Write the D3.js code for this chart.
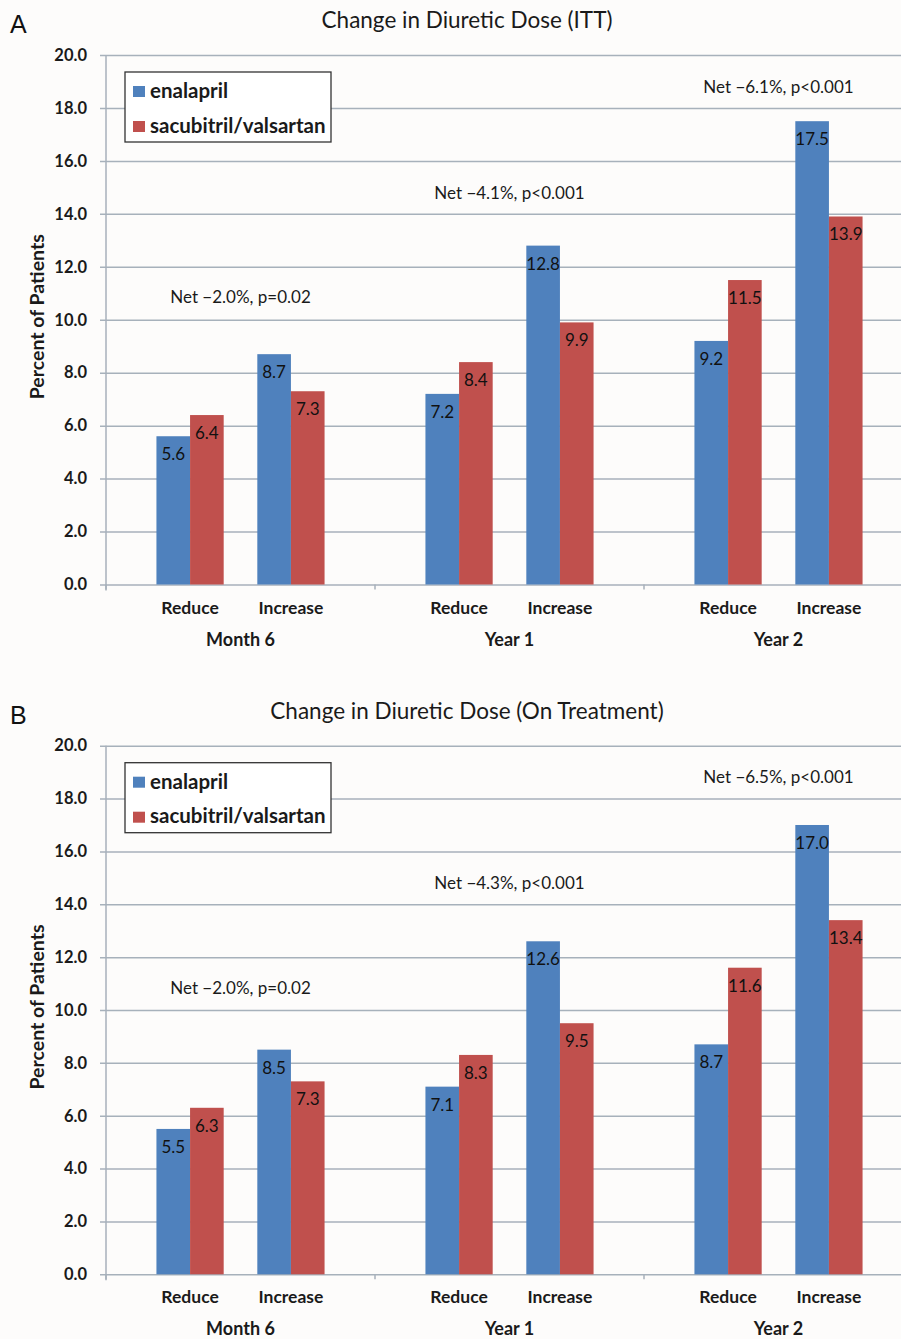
<!DOCTYPE html>
<html>
<head>
<meta charset="utf-8">
<script src="https://cdn.jsdelivr.net/npm/d3@7"></script>
<style>
  body { margin: 0; background: #fdfcfb; }
  svg { display: block; font-family: Lato, "Open Sans", sans-serif; }
</style>
</head>
<body>
<svg id="viz"></svg>
<script>
const periods = ["Month 6", "Year 1", "Year 2"];
const changes = ["Reduce", "Increase"];
const seriesNames = ["enalapril", "sacubitril/valsartan"];
const yTicks = [0, 2, 4, 6, 8, 10, 12, 14, 16, 18, 20];

// panel A, ITT: Month 6 reduce/increase, Year 1 reduce/increase, Year 2 reduce/increase
const ittEnalapril = [5.6, 8.7, 7.2, 12.8, 9.2, 17.5];
const ittSacubitril = [6.4, 7.3, 8.4, 9.9, 11.5, 13.9];
const ittNotes = ["Net \u22122.0%, p=0.02", "Net \u22124.1%, p<0.001", "Net \u22126.1%, p<0.001"];

// panel B, on treatment
const otEnalapril = [5.5, 8.5, 7.1, 12.6, 8.7, 17.0];
const otSacubitril = [6.3, 7.3, 8.3, 9.5, 11.6, 13.4];
const otNotes = ["Net \u22122.0%, p=0.02", "Net \u22124.3%, p<0.001", "Net \u22126.5%, p<0.001"];

const app = {
    init() {
        this.svg = d3.select("#viz").attr("width", 901).attr("height", 1339);
        this.drawPanel({letter: "A", title: "Change in Diuretic Dose (ITT)", top: 55, bottom: 584.5,
            series: [ittEnalapril, ittSacubitril], notes: ittNotes});
        this.drawPanel({letter: "B", title: "Change in Diuretic Dose (On Treatment)", top: 745.7, bottom: 1274.3,
            series: [otEnalapril, otSacubitril], notes: otNotes});
    },

    drawPanel(p) {
        const left = 106, right = 913;
        const gridColor = "#a7b1bb";
        const colors = ["#4f81bd", "#c0504d"];
        const g = this.svg.append("g");

        const y = d3.scaleLinear().domain([0, 20]).range([p.bottom, p.top]);
        const x0 = d3.scaleBand().domain(periods).range([left, right]);
        const x1 = d3.scaleBand().domain(changes).range([0, x0.bandwidth()]).paddingInner(1 / 3).paddingOuter(0.5);
        const x2 = d3.scaleBand().domain(seriesNames).range([0, x1.bandwidth()]);
        const color = d3.scaleOrdinal().domain(seriesNames).range(colors);

        // letter + title
        g.append("text").attr("x", 10).attr("y", p.top - 22).text(p.letter)
            .style("font-family", "'Liberation Sans', Arial, sans-serif").style("font-size", "25px").attr("fill", "#111");
        g.append("text").attr("x", 467).attr("y", p.top - 27).attr("text-anchor", "middle").text(p.title)
            .style("font-size", "22.5px").attr("fill", "#1a1a1a");

        // y axis with gridlines
        const yAxis = g.append("g").attr("transform", `translate(${left},0)`)
            .call(d3.axisLeft(y).tickValues(yTicks).tickFormat(d3.format(".1f")).tickSize(-(right - left)).tickPadding(19));
        yAxis.select(".domain").remove();
        yAxis.selectAll(".tick line").attr("x1", -6).attr("stroke", gridColor).attr("stroke-width", 1.5);
        yAxis.selectAll(".tick text").style("font-size", "16.5px").style("font-weight", "bold").attr("fill", "#1a1a1a")
            .style("font-family", "Lato, sans-serif");
        g.append("line").attr("x1", left).attr("x2", left).attr("y1", p.top).attr("y2", p.bottom + 6)
            .attr("stroke", gridColor).attr("stroke-width", 1.5);

        // x axis ticks at period boundaries
        const bounds = periods.map(d => x0(d)).concat([right]);
        g.selectAll(".xtick").data(bounds).enter().append("line")
            .attr("x1", d => d).attr("x2", d => d).attr("y1", p.bottom).attr("y2", p.bottom + 5)
            .attr("stroke", gridColor).attr("stroke-width", 1.5);

        g.append("text").attr("transform", `translate(44,${(p.top + p.bottom) / 2 - 3}) rotate(-90)`)
            .attr("text-anchor", "middle").text("Percent of Patients")
            .style("font-size", "19.5px").style("font-weight", "bold").attr("fill", "#1a1a1a");

        // bars
        const rows = [];
        periods.forEach((per, i) => changes.forEach((ch, j) => seriesNames.forEach((s, k) => {
            rows.push({period: per, change: ch, series: s, value: p.series[k][i * 2 + j]});
        })));
        const bx = d => x0(d.period) + x1(d.change) + x2(d.series);
        g.selectAll(".bar").data(rows).enter().append("rect")
            .attr("x", bx).attr("width", x2.bandwidth())
            .attr("y", d => y(d.value)).attr("height", d => y(0) - y(d.value))
            .attr("fill", d => color(d.series));
        g.selectAll(".val").data(rows).enter().append("text")
            .attr("x", d => bx(d) + x2.bandwidth() / 2).attr("y", d => y(d.value) + 24)
            .attr("text-anchor", "middle").text(d => d.value.toFixed(1))
            .style("font-size", "17px").attr("fill", "#111");

        // category labels
        periods.forEach(per => {
            changes.forEach(ch => {
                g.append("text").attr("x", x0(per) + x1(ch) + x1.bandwidth() / 2).attr("y", p.bottom + 29)
                    .attr("text-anchor", "middle").text(ch)
                    .style("font-size", "17.5px").style("font-weight", "bold").attr("fill", "#1a1a1a");
            });
            g.append("text").attr("x", x0(per) + x0.bandwidth() / 2).attr("y", p.bottom + 61)
                .attr("text-anchor", "middle").text(per)
                .style("font-size", "18px").style("font-weight", "bold").attr("fill", "#1a1a1a");
        });

        // net notes above each period
        const noteLevel = [10.85, 14.8, 18.8];
        g.selectAll(".note").data(p.notes).enter().append("text")
            .attr("x", (d, i) => x0(periods[i]) + x0.bandwidth() / 2)
            .attr("y", (d, i) => y(noteLevel[i]) + 6)
            .attr("text-anchor", "middle").text(d => d)
            .style("font-size", "17px").attr("fill", "#1a1a1a");

        // legend
        const legend = g.append("g").attr("transform", `translate(125,${p.top + 17})`);
        legend.append("rect").attr("width", 206).attr("height", 70).attr("fill", "#fff")
            .attr("stroke", "#333").attr("stroke-width", 1.3);
        seriesNames.forEach((s, i) => {
            legend.append("rect").attr("x", 8).attr("y", 14 + i * 35).attr("width", 12).attr("height", 11).attr("fill", color(s));
            legend.append("text").attr("x", 25).attr("y", 26 + i * 34.5).text(s)
                .style("font-size", "20.5px").style("font-weight", "bold").attr("fill", "#1a1a1a");
        });
    }
};

window.addEventListener("DOMContentLoaded", () => app.init());
</script>
</body>
</html>
